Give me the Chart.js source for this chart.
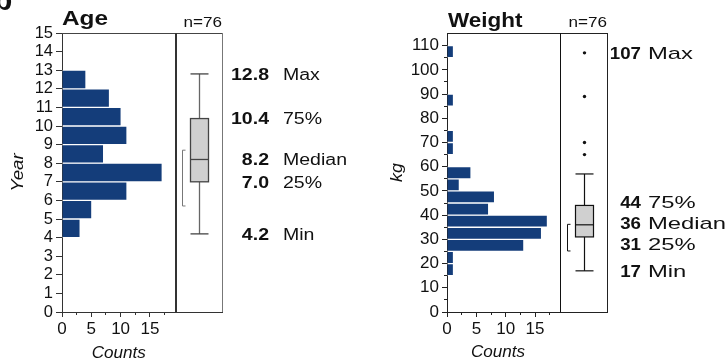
<!DOCTYPE html>
<html><head><meta charset="utf-8">
<script src="https://cdn.jsdelivr.net/npm/chart.js@4.4.1/dist/chart.umd.min.js"></script>
<style>
html,body{margin:0;padding:0;background:#fff;width:727px;height:364px;overflow:hidden}
canvas{position:absolute;top:0}
#age{left:0}
#weight{left:370px}
</style></head><body>
<canvas id="age" width="363" height="364"></canvas>
<canvas id="weight" width="357" height="364"></canvas>
<script>
// ---------------- data ----------------
const ageBinStarts   = [4, 5, 6, 7, 8, 9, 10, 11, 12];
const ageCounts      = [3, 5, 11, 17, 7, 11, 10, 8, 4];
const ageBinWidth    = 1;
const ageYTicks      = [0,1,2,3,4,5,6,7,8,9,10,11,12,13,14,15];
const ageStatValues  = [12.8, 10.4, 8.2, 7.0, 4.2];
const ageStatTexts   = ['12.8', '10.4', '8.2', '7.0', '4.2'];
const ageStatNames   = ['Max', '75%', 'Median', '25%', 'Min'];
const ageBox         = [7.0, 8.2, 10.4];     // q1, median, q3
const ageWhiskers    = [4.2, 12.8];
const ageBracket     = [5.7, 8.7];
const ageOutliers    = [];

const weightBinStarts  = [15, 20, 25, 30, 35, 40, 45, 50, 55, 65, 70, 85, 105];
const weightCounts     = [1, 1, 13, 16, 17, 7, 8, 2, 4, 1, 1, 1, 1];
const weightBinWidth   = 5;
const weightYTicks     = [0,10,20,30,40,50,60,70,80,90,100,110];
const weightYMinor     = [5,15,25,35,45,55,65,75,85,95,105];
const weightStatValues = [107, 44, 36, 31, 17];
const weightStatTexts  = ['107', '44', '36', '31', '17'];
const weightStatNames  = ['Max', '75%', 'Median', '25%', 'Min'];
const weightBox        = [31, 36, 44];
const weightWhiskers   = [17, 57];
const weightBracket    = [25.2, 36.2];
const weightOutliers   = [65, 70, 89, 107];

const countTicks      = [0, 5, 10, 15];
const countMinorTicks = [2.5, 7.5, 12.5, 17.5];
const sampleN         = 76;

// ---------------- drawing helpers ----------------
const FONT = "'Liberation Sans', Arial, Helvetica, sans-serif";
function txt(ctx, s, x, y, size, weight, style, align, sx, rot) {
  ctx.save();
  ctx.font = `${style} ${weight} ${size}px ${FONT}`;
  ctx.fillStyle = '#111';
  ctx.textAlign = align;
  ctx.textBaseline = rot ? 'middle' : 'alphabetic';
  ctx.translate(x, y);
  if (rot) ctx.rotate(rot);
  ctx.scale(sx, 1);
  ctx.fillText(s, 0, 0);
  ctx.restore();
}
function line(ctx, x1, y1, x2, y2, color, w) {
  ctx.save(); ctx.strokeStyle = color; ctx.lineWidth = w;
  ctx.beginPath(); ctx.moveTo(x1, y1); ctx.lineTo(x2, y2); ctx.stroke(); ctx.restore();
}
const al = (p, w) => Math.round(p - w / 2) + w / 2;
function spread(ps, gap) {
  let g = ps.map(p => ({ n: 1, sum: p, start: p }));
  let merged = true;
  while (merged) {
    merged = false;
    for (let i = 0; i < g.length - 1; i++) {
      const a = g[i], b = g[i + 1];
      if (b.start - (a.start + (a.n - 1) * gap) < gap) {
        const n = a.n + b.n, sum = a.sum + b.sum;
        g.splice(i, 2, { n, sum, start: sum / n - (n - 1) * gap / 2 });
        merged = true; break;
      }
    }
  }
  const out = [];
  g.forEach(k => { for (let j = 0; j < k.n; j++) out.push(k.start + j * gap); });
  return out;
}

const panels = {
  age: {
    title: 'Age', titleSx: 1.16, titleDx: 0, titleBase: 25,
    yTitle: 'Year', yTitleX: 18, yTitleSx: 1.1,
    countsX: 118.8, countsBase: 358,
    box: ageBox, whiskers: ageWhiskers, bracket: ageBracket, outliers: ageOutliers,
    statValues: ageStatValues, statTexts: ageStatTexts, statNames: ageStatNames,
    valDx: 47, nameDx: 61, statSize: 16, valSx: 1.22, nameSx: 1.22, gap: 21,
    axis: '#333', sepColor: '#333', sepW: 2, borderTop: '#444', borderRight: '#777',
    boxStroke: '#444', whiskColor: '#666', boxW: 1.3, bracketColor: '#777',
    yMinor: [], letter: true
  },
  weight: {
    title: 'Weight', titleSx: 1.07, titleDx: 1, titleBase: 26.5,
    yTitle: 'kg', yTitleX: 27, yTitleSx: 1.05,
    countsX: 128, countsBase: 357,
    box: weightBox, whiskers: weightWhiskers, bracket: weightBracket, outliers: weightOutliers,
    statValues: weightStatValues, statTexts: weightStatTexts, statNames: weightStatNames,
    valDx: 34, nameDx: 41, statSize: 17, valSx: 1.1, nameSx: 1.4, gap: 21,
    axis: '#222', sepColor: '#111', sepW: 1, borderTop: '#222', borderRight: '#222',
    boxStroke: '#111', whiskColor: '#111', boxW: 1.2, bracketColor: '#111',
    yMinor: weightYMinor, letter: false
  }
};

const HIST_MAX = 19.4;
const BOX_CENTER = 23.4;
const BOX_HALF = 9;

const panelPlugin = {
  id: 'panel',
  afterDraw(chart) {
    const P = panels[chart.canvas.id];
    const { ctx, chartArea: ca } = chart;
    const x = chart.scales.x, y = chart.scales.y;
    // minor ticks
    countMinorTicks.forEach(v => {
      const px = al(x.getPixelForValue(v), 1);
      line(ctx, px, ca.bottom, px, ca.bottom + 3, P.axis, 1);
    });
    P.yMinor.forEach(v => {
      const py = al(y.getPixelForValue(v), 1);
      line(ctx, ca.left - 3, py, ca.left, py, P.axis, 1);
    });
    // frame
    const sep = x.getPixelForValue(HIST_MAX);
    line(ctx, ca.left, al(ca.top, 1), ca.right + 0.5, al(ca.top, 1), P.borderTop, 1);
    line(ctx, al(ca.right, 1), ca.top, al(ca.right, 1), ca.bottom, P.borderRight, 1);
    line(ctx, al(sep, P.sepW), ca.top, al(sep, P.sepW), ca.bottom, P.sepColor, P.sepW);
    // box plot
    const cx = Math.round(x.getPixelForValue(BOX_CENTER)) + 0.5;
    const [q1, med, q3] = P.box.map(v => y.getPixelForValue(v));
    const [wl, wh] = P.whiskers.map(v => y.getPixelForValue(v));
    line(ctx, cx, q3, cx, wh, P.whiskColor, P.boxW);
    line(ctx, cx, q1, cx, wl, P.whiskColor, P.boxW);
    line(ctx, cx - BOX_HALF, wh, cx + BOX_HALF, wh, P.boxStroke, P.boxW);
    line(ctx, cx - BOX_HALF, wl, cx + BOX_HALF, wl, P.boxStroke, P.boxW);
    ctx.save();
    ctx.fillStyle = '#d0d0d0'; ctx.strokeStyle = P.boxStroke; ctx.lineWidth = P.boxW;
    ctx.fillRect(cx - BOX_HALF, q3, BOX_HALF * 2, q1 - q3);
    ctx.strokeRect(cx - BOX_HALF, q3, BOX_HALF * 2, q1 - q3);
    ctx.restore();
    line(ctx, cx - BOX_HALF, med, cx + BOX_HALF, med, P.boxStroke, P.boxW);
    // bracket
    const bx = Math.round(sep) + 6.5;
    const [b1, b2] = P.bracket.map(v => y.getPixelForValue(v));
    line(ctx, bx, b1, bx, b2, P.bracketColor, 1);
    line(ctx, bx, b1, bx + 3, b1, P.bracketColor, 1);
    line(ctx, bx, b2, bx + 3, b2, P.bracketColor, 1);
    // outliers
    ctx.save(); ctx.fillStyle = '#111';
    P.outliers.forEach(v => { ctx.beginPath(); ctx.arc(cx, y.getPixelForValue(v), 1.7, 0, Math.PI * 2); ctx.fill(); });
    ctx.restore();
    // stats labels
    const ys = spread(P.statValues.map(v => y.getPixelForValue(v)), P.gap);
    ys.forEach((py, i) => {
      const base = py + 0.36 * P.statSize;
      txt(ctx, P.statTexts[i], ca.right + P.valDx, base, P.statSize, 'bold', 'normal', 'right', P.valSx);
      txt(ctx, P.statNames[i], ca.right + P.nameDx, base, P.statSize, 'normal', 'normal', 'left', P.nameSx);
    });
    // titles
    txt(ctx, P.title, ca.left + P.titleDx, P.titleBase, 21, 'bold', 'normal', 'left', P.titleSx);
    txt(ctx, 'n=' + sampleN, ca.right, 26.5, 14.5, 'normal', 'normal', 'right', 1.18);
    txt(ctx, P.yTitle, P.yTitleX, (ca.top + ca.bottom) / 2, 17, 'normal', 'italic', 'center', P.yTitleSx, -Math.PI / 2);
    txt(ctx, 'Counts', P.countsX, P.countsBase, 16, 'normal', 'italic', 'center', 1.07);
    if (P.letter) txt(ctx, 'b', -6, 10, 30, 'bold', 'normal', 'left', 1);
  }
};

function makeChart(id, o) {
  return new Chart(document.getElementById(id), {
    type: 'bar',
    data: {
      datasets: [{
        data: o.starts.map((s, i) => ({ x: o.counts[i], y: s + o.binWidth / 2 })),
        backgroundColor: '#143d7a',
        borderColor: '#ffffff',
        borderWidth: { top: 1, bottom: 1, left: 0, right: 0 },
        borderSkipped: 'start',
        barPercentage: 1,
        categoryPercentage: 1
      }]
    },
    options: {
      indexAxis: 'y',
      responsive: false,
      animation: false,
      events: [],
      layout: { padding: { left: 0, top: 33, right: o.padRight, bottom: 0 } },
      plugins: { legend: { display: false }, tooltip: { enabled: false }, title: { display: false } },
      scales: {
        x: {
          type: 'linear', min: 0, max: o.xMax, offset: false,
          afterBuildTicks: s => { s.ticks = countTicks.map(v => ({ value: v })); },
          afterFit: s => { s.height = 52; },
          grid: { display: true, offset: false, drawOnChartArea: false, drawTicks: true, tickLength: 5, tickColor: o.axis, tickWidth: 1 },
          border: { display: true, color: o.axis, width: 1 },
          ticks: { font: { family: FONT, size: 17 }, color: '#111', padding: 2, maxRotation: 0, autoSkip: false }
        },
        y: {
          type: 'linear', min: 0, max: o.yMax, offset: false,
          afterBuildTicks: s => { s.ticks = o.yTicks.map(v => ({ value: v })); },
          afterFit: s => { s.width = o.yAxisWidth; },
          grid: { display: true, offset: false, drawOnChartArea: false, drawTicks: true, tickLength: o.yTickLen, tickColor: o.axis, tickWidth: 1 },
          border: { display: true, color: o.axis, width: 1 },
          ticks: { font: { family: FONT, size: o.yTickSize }, color: '#111', padding: 3, autoSkip: false }
        }
      }
    },
    plugins: [panelPlugin]
  });
}

makeChart('age', {
  starts: ageBinStarts, counts: ageCounts, binWidth: ageBinWidth, yTicks: ageYTicks,
  yMax: 15, xMax: 27.3, padRight: 141, yAxisWidth: 62, yTickLen: 6, yTickSize: 16.5, axis: '#333'
});
makeChart('weight', {
  starts: weightBinStarts, counts: weightCounts, binWidth: weightBinWidth, yTicks: weightYTicks,
  yMax: 115.2, xMax: 27.25, padRight: 120, yAxisWidth: 77, yTickLen: 5, yTickSize: 17, axis: '#222'
});
</script>
</body></html>
